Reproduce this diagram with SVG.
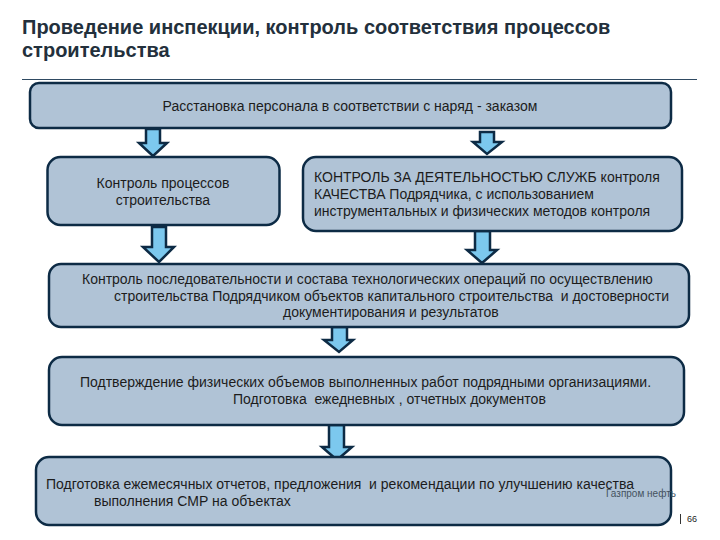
<svg xmlns="http://www.w3.org/2000/svg" width="720" height="540" viewBox="0 0 720 540">
<style>
text{font-family:"Liberation Sans",Arial,sans-serif;fill:#1c1c1c;white-space:pre}
.t{font-size:14px}
.title{font-size:20px;font-weight:bold;fill:#23303c}
.box{fill:#b0c3d6;stroke:#0d2b45;stroke-width:2.5}
.arr{fill:#7cc8ee;stroke:#0d2b45;stroke-width:2.5;stroke-linejoin:miter}
</style>
<rect width="720" height="540" fill="#fff"/>
<g id="title">
<text class="title" x="22" y="34">Проведение инспекции, контроль соответствия процессов</text>
<text class="title" x="22" y="57">строительства</text>
<line x1="22" y1="79.500" x2="697" y2="79.500" stroke="#2f4a62" stroke-width="1"/>
</g>
<g id="connectors">
<path class="arr" d="M146 129H160V143H167L153 156L139 143H146Z"/>
<path class="arr" d="M480 132H494V142H502L487 154L473 142H480Z"/>
<path class="arr" d="M152 227H166V247H174L159 262L143 247H152Z"/>
<path class="arr" d="M475 231H490V250H497L482 263L467 250H475Z"/>
<path class="arr" d="M332 327H347V340H353L339 352L324 340H332Z"/>
<path class="arr" d="M329 425H344V447H352L337 460L322 447H329Z"/>
</g>
<g id="node1">
<rect class="box" x="30" y="83" width="641" height="45" rx="9"/>
<text class="t" x="350" y="111" text-anchor="middle">Расстановка персонала в соответствии с наряд - заказом</text>
</g>
<g id="node2">
<rect class="box" x="47.500" y="157" width="232" height="68" rx="13"/>
<text class="t" x="163" y="188" text-anchor="middle">Контроль процессов</text>
<text class="t" x="163" y="205" text-anchor="middle">строительства</text>
</g>
<g id="node3">
<rect class="box" x="303" y="157" width="379" height="74" rx="13"/>
<text class="t" x="314" y="182">КОНТРОЛЬ ЗА ДЕЯТЕЛЬНОСТЬЮ СЛУЖБ контроля</text>
<text class="t" x="314" y="199">КАЧЕСТВА Подрядчика, с использованием</text>
<text class="t" x="314" y="216">инструментальных и физических методов контроля</text>
</g>
<g id="node4">
<rect class="box" x="49" y="264" width="640" height="63" rx="12"/>
<text class="t" x="82" y="284">Контроль последовательности и состава технологических операций по осуществлению</text>
<text class="t" x="114" y="301">строительства Подрядчиком объектов капитального строительства  и достоверности</text>
<text class="t" x="283" y="317">документирования и результатов</text>
</g>
<g id="node5">
<rect class="box" x="49" y="357" width="635" height="68" rx="13"/>
<text class="t" x="80" y="387">Подтверждение физических объемов выполненных работ подрядными организациями.</text>
<text class="t" x="233" y="404">Подготовка  ежедневных , отчетных документов</text>
</g>
<g id="node6">
<rect class="box" x="36" y="457" width="635" height="68" rx="13"/>
<text class="t" x="46" y="489">Подготовка ежемесячных отчетов, предложения  и рекомендации по улучшению качества</text>
<text class="t" x="94" y="506">выполнения СМР на объектах</text>
</g>
<g id="footer">
<text x="606" y="497" font-size="10" style="fill:#44525e">Газпром нефть</text>
<line x1="680.500" y1="514" x2="680.500" y2="524" stroke="#333" stroke-width="1"/>
<text x="687" y="522" font-size="9">66</text>
</g>
</svg>
